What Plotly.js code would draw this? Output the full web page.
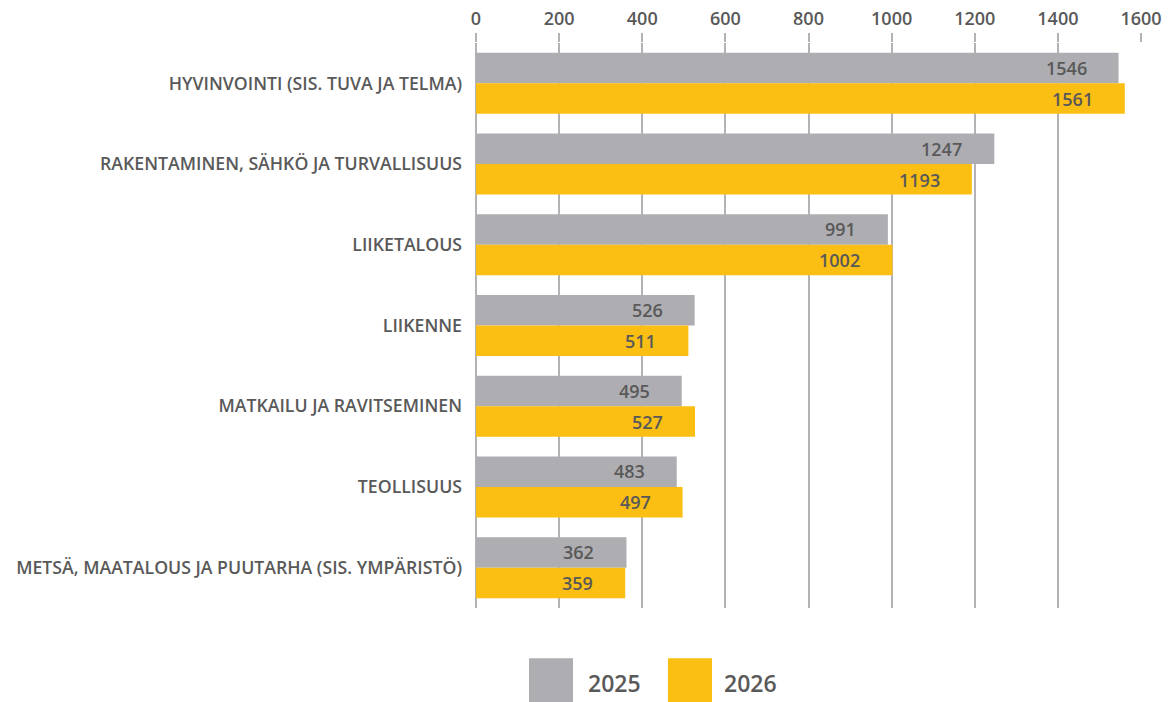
<!DOCTYPE html>
<html>
<head>
<meta charset="utf-8">
<script src="https://cdn.plot.ly/plotly-3.0.1.min.js"></script>
<style>html,body{margin:0;padding:0;background:#fff;}#chart{width:1176px;height:702px;}</style>
</head>
<body>
<div id="chart"></div>
<script>
const categories = [
  "HYVINVOINTI (SIS. TUVA JA TELMA)",
  "RAKENTAMINEN, SÄHKÖ JA TURVALLISUUS",
  "LIIKETALOUS",
  "LIIKENNE",
  "MATKAILU JA RAVITSEMINEN",
  "TEOLLISUUS",
  "METSÄ, MAATALOUS JA PUUTARHA (SIS. YMPÄRISTÖ)"
];
const values2025 = [1546, 1247, 991, 526, 495, 483, 362];
const values2026 = [1561, 1193, 1002, 511, 527, 497, 359];
const seriesNames = ["2025", "2026"];
const tickValues = [0, 200, 400, 600, 800, 1000, 1200, 1400, 1600];

const GRAY = "#AEAEB2";
const YELLOW = "#FBBE13";
const TEXT = "#595959";
const FONT = "Open Sans, sans-serif";

const traces = [
  {type: "bar", orientation: "h", name: seriesNames[0], y: categories, x: values2025,
   marker: {color: GRAY}, hoverinfo: "x"},
  {type: "bar", orientation: "h", name: seriesNames[1], y: categories, x: values2026,
   marker: {color: YELLOW}, hoverinfo: "x"}
];

const annotations = [];
categories.forEach((c, i) => {
  annotations.push({x: values2025[i], y: c, xref: "x", yref: "y", text: String(values2025[i]),
    showarrow: false, xanchor: "right", yanchor: "middle", xshift: -30, yshift: 15.5,
    font: {family: FONT, size: 18, color: TEXT, weight: 600}});
  annotations.push({x: values2026[i], y: c, xref: "x", yref: "y", text: String(values2026[i]),
    showarrow: false, xanchor: "right", yanchor: "middle", xshift: -30, yshift: -15.5,
    font: {family: FONT, size: 18, color: TEXT, weight: 600}});
});
// legend labels
annotations.push({x: 0.166, y: -0.1332, xref: "paper", yref: "paper", text: seriesNames[0],
  showarrow: false, xanchor: "left", yanchor: "middle", font: {family: FONT, size: 23, color: TEXT, weight: 600}});
annotations.push({x: 0.3694, y: -0.1332, xref: "paper", yref: "paper", text: seriesNames[1],
  showarrow: false, xanchor: "left", yanchor: "middle", font: {family: FONT, size: 23, color: TEXT, weight: 600}});

const shapes = [
  {type: "rect", xref: "paper", yref: "paper", x0: 0.0797, x1: 0.1459, y0: -0.0889, y1: -0.1668,
   fillcolor: GRAY, line: {width: 0}},
  {type: "rect", xref: "paper", yref: "paper", x0: 0.2887, x1: 0.3549, y0: -0.0889, y1: -0.1668,
   fillcolor: YELLOW, line: {width: 0}}
];

const layout = {
  width: 1176, height: 702,
  margin: {l: 476, r: 35, t: 43, b: 94, pad: 0},
  paper_bgcolor: "#ffffff", plot_bgcolor: "#ffffff",
  barmode: "group", bargap: 0.244, bargroupgap: 0,
  showlegend: false,
  font: {family: FONT, color: TEXT},
  xaxis: {
    side: "top", range: [0, 1600], tickvals: tickValues, ticktext: tickValues.map(String),
    showgrid: true, gridcolor: "#B3B3B7", gridwidth: 2,
    zeroline: true, zerolinecolor: "#B3B3B7", zerolinewidth: 2,
    ticks: "outside", ticklen: 9, tickwidth: 2, tickcolor: "#B3B3B7",
    showline: false, ticklabelstandoff: 1,
    tickfont: {family: FONT, size: 18, color: TEXT, weight: 600}, fixedrange: true
  },
  yaxis: {
    type: "category", autorange: "reversed", showgrid: false, zeroline: false,
    ticks: "", ticklabelstandoff: 13,
    tickfont: {family: FONT, size: 17.7, color: TEXT, weight: 600}, fixedrange: true
  },
  annotations: annotations,
  shapes: shapes
};

Plotly.newPlot("chart", traces, layout, {displayModeBar: false, staticPlot: true});
</script>
</body>
</html>
